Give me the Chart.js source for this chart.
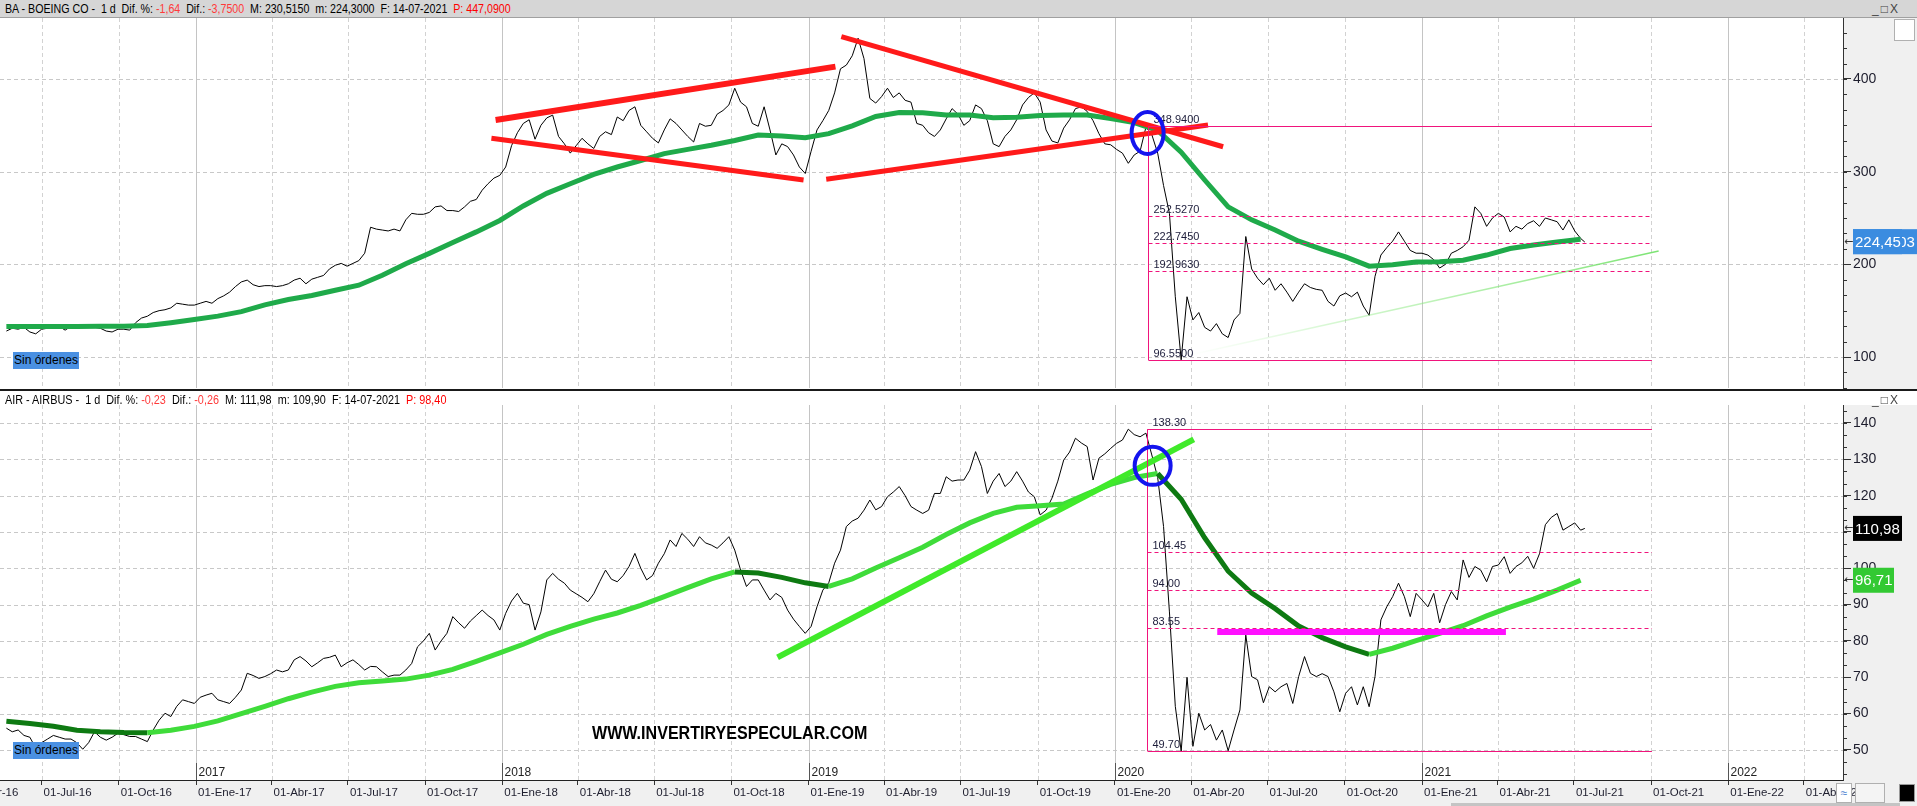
<!DOCTYPE html>
<html>
<head>
<meta charset="utf-8">
<title>BA / AIR diario</title>
<script src="https://cdn.jsdelivr.net/npm/chart.js@4.4.1/dist/chart.umd.min.js"></script>
<style>
  body { margin: 0; width: 1917px; height: 806px; overflow: hidden; position: relative; background: #fff; font-family: "Liberation Sans", Arial, sans-serif; }
  canvas { position: absolute; left: 0; }
  #cTop { top: 0; }
  #cBot { top: 390px; }
  .bar { position: absolute; left: 0; width: 1917px; }
  #topBar { top: 0; height: 17px; background: #d6d6d6; border-bottom: 1px solid #a0a0a0; }
  #botBar { top: 389px; height: 14px; background: #fff; border-top: 2px solid #1a1a1a; }
  .hdr { position: absolute; left: 5px; font-size: 12px; white-space: pre; color: #000; line-height: 14px; transform-origin: 0 0; }
  .neg { color: #ff3a3a; }
  .pr { color: #f00; }
  .sin { position: absolute; left: 13px; width: 66px; height: 17px; background: #4a90e2; font-size: 12px; line-height: 17px; text-align: center; color: #000; }
  .win { position: absolute; left: 1872px; font-size: 12px; color: #444; letter-spacing: 2px; }
  #wm { position: absolute; left: 592px; top: 723px; font-weight: bold; font-size: 18px; color: #000; transform-origin: 0 0; white-space: nowrap; line-height: 20px; }
  .ico { position: absolute; border: 1px solid #b0b0b0; background: #fff; }
</style>
</head>
<body>
<canvas id="cTop" width="1917" height="390"></canvas>
<canvas id="cBot" width="1917" height="416"></canvas>

<div class="bar" id="topBar"></div>
<div class="hdr" id="hdrTop" style="top:2px">BA - BOEING CO -  1 d  Dif. %: <span class="neg">-1,64</span>  Dif.: <span class="neg">-3,7500</span>  M: 230,5150  m: 224,3000  F: 14-07-2021  <span class="pr">P: 447,0900</span></div>
<div class="win" style="top:2px">_□X</div>
<div class="ico" style="left:1894px;top:19px;width:19px;height:20px"></div>

<div class="bar" id="botBar"></div>
<div class="hdr" id="hdrBot" style="top:393px">AIR - AIRBUS -  1 d  Dif. %: <span class="neg">-0,23</span>  Dif.: <span class="neg">-0,26</span>  M: 111,98  m: 109,90  F: 14-07-2021  <span class="pr">P: 98,40</span></div>
<div class="win" style="top:393px">_□X</div>

<div class="sin" style="top:352px">Sin órdenes</div>
<div class="sin" style="top:742px">Sin órdenes</div>
<div id="wm">WWW.INVERTIRYESPECULAR.COM</div>

<div class="ico" style="left:1836px;top:783px;width:14px;height:18px;color:#4a7fd0;font-size:12px;line-height:18px;text-align:center">≈</div>
<div class="ico" style="left:1855px;top:783px;width:28px;height:18px;background:#f4f4f4"></div>
<div style="position:absolute;left:1899px;top:784px;width:14px;height:16px;background:#000;border:1px solid #999"></div>
<div style="position:absolute;left:1451px;top:803px;width:449px;height:3px;background:#c4c4c4"></div>

<script>
// ---------- data ----------
var DAY0 = Date.UTC(2016, 0, 1);
function dayOf(s) {
    var p = s.split('-').map(Number);
    return (Date.UTC(p[0], p[1] - 1, p[2]) - DAY0) / 86400000;
}

var firstWeek = '2016-05-20';   // weekly closes (fridays) from here on
var lastDay = '2021-07-14';     // last session shown
var maStepDays = 28;            // moving average read every 4 weeks

// BA - BOEING CO, weekly close
var baClose = [
    128, 131,                                   // may-16
    130, 132, 127, 125,
    130, 131, 132, 133, 129,
    133, 131, 134, 133,
    132, 131, 128, 127, 130,
    130, 129, 137, 142,
    144, 148, 150, 151,
    153, 158, 157, 156, 156,
    158, 160, 158, 163,                         // 2017
    166, 170, 176, 181,
    183, 178, 176, 177, 177,
    176, 177, 179, 183,
    185, 179, 184, 186,
    188, 195, 199, 201, 198,
    201, 204, 212, 240,
    238, 237, 236, 238,
    236, 248, 255, 254, 254,
    256, 262, 263, 258,
    258, 257, 262, 268,
    270, 280, 287, 293, 296,
    305, 328, 342, 352,                         // 2018
    356, 335, 350, 358,
    361, 338, 330, 320, 328,
    336, 330, 325, 338,
    343, 340, 359, 355,
    366, 370, 350, 343, 336,
    331, 345, 357, 352,
    345, 338, 332, 352, 349,
    350, 362, 366, 372,
    390, 375, 370, 352,
    349, 370, 345, 318, 330,
    327, 318, 305, 298,
    322, 345, 355, 366,                         // 2019
    385, 411, 415, 425,
    444, 422, 379, 374, 381,
    390, 380, 385, 377,
    375, 352, 350, 342, 338,
    345, 357, 368, 362,
    350, 355, 372, 368,
    355, 330, 327, 338, 345,
    356, 372, 380, 385,
    375, 345, 333, 331,
    347, 356, 368, 370, 365,
    355, 341, 330, 329,
    324, 320, 309, 318, 322,                    // 2020
    348, 340, 320, 285,
    255, 165, 97, 165,
    140, 148, 132, 128,
    136, 125, 121, 140, 147,
    230, 195, 185, 178,
    185, 172, 179, 170, 160,
    170, 179, 175, 173,
    172, 160, 155, 166,
    169, 165, 170, 155, 145,
    187, 210, 218, 225,
    235, 225, 215, 212,
    212, 210, 205, 196, 200,                    // 2021
    212, 215, 219, 226,
    262, 255, 241, 250,
    255, 251, 235, 241, 238,
    244, 247, 241, 250,
    248, 246, 237, 248,
    236, 228,
    224
];

// AIR - AIRBUS, weekly close
var airClose = [
    56, 55,                                     // may-16
    55.5, 54, 53.5, 50.5,
    52, 53, 54, 53.5, 53,
    53, 52, 50.2, 52,
    55, 53.5, 52.7, 53.5, 54.6,
    54.2, 53.7, 53.7, 53,
    52.3, 55.5, 58.2, 60.1,
    59.2, 62, 63.8, 63.3, 62.8,
    64.5, 65.1, 65.6, 63.8,                     // 2017
    63.3, 62.8, 64.5, 66.5,
    71.1, 70.5, 69.7, 70.2, 71,
    72, 71.5, 72, 74.8,
    75.7, 74.5, 72.9, 74,
    75.2, 75.5, 76.1, 72.9, 74,
    74.8, 73.5, 72, 73,
    72.9, 71.5, 70.2, 70.6,
    70.6, 72, 73.8, 78.4, 80,
    82.1, 77.5, 80, 82.1,
    86.7, 85, 83.5, 85.5,
    87, 88.5, 87, 85.8, 83,
    87.6, 91, 93.1, 90.4,                       // 2018
    90, 83, 88, 96.8,
    98.6, 97, 95.9, 94, 93,
    92, 90.8, 93, 96.3,
    99.5, 97, 96.3, 98,
    100.5, 104.1, 100, 96.8, 98,
    101.4, 104, 107.8, 106,
    109.6, 108, 106, 108.7, 107,
    106.4, 105.5, 107, 108.7,
    105, 99.5, 95, 96.8,
    96.8, 94, 91.3, 93.1, 92,
    88.5, 86, 84, 82.1,
    84, 89.4, 94, 96,                           // 2019
    101.4, 105, 111.5, 113,
    113.8, 116, 118.8, 116.1, 117,
    119.7, 121, 122.5, 120,
    117, 116, 115.1, 116, 120.6,
    120.6, 125.2, 124, 124.3,
    124.3, 127, 132.1, 128,
    120.6, 124, 126.1, 122.5, 124,
    126.6, 124, 121, 119.7,
    114.7, 116, 119.3, 124,
    129.8, 132, 135.8, 134.5, 133.5,
    124.3, 130.3, 131.5, 133,
    134.4, 135.3, 138.3, 136.8, 136.2,          // 2020
    137.2, 131.2, 125, 111.5,
    88, 62, 49.7, 70,
    51, 60.1, 55.5, 57,
    52.7, 55.5, 49.8, 55.5, 61,
    81.6, 70.2, 69.3, 63,
    67.4, 66, 67.4, 68.3, 62.8,
    70.2, 75.7, 71.1, 70.2,
    71, 70.2, 66, 60.5,
    65.6, 67.4, 62.4, 67.4, 61.9,
    70.2, 85.8, 89.4, 92.2,
    95.9, 92.2, 86.7, 93.1,
    91.3, 89.4, 93.1, 85, 90,                   // 2021
    93.6, 91.3, 102.3, 97.5,
    100.5, 99.5, 96.3, 100.5,
    100.9, 103.2, 98.6, 100.5, 101.5,
    103.3, 100, 104, 112,
    114, 115.1, 110.5, 111.5,
    112.5, 110.5,
    110.98
];

// moving averages (green), one value every 4 weeks from firstWeek
var baMa = [
    132.8, 133.0, 133.0, 133.0, 133.2, 133.3, 134.0, 137.0, 140.5, 144.1,
    149.0, 156.3, 162.0, 166.3, 172.0, 177.5, 188.2, 200.6, 211.8, 223.6,
    235.0, 247.3, 263.0, 276.6, 287.0, 297.0, 305.0, 312.0, 319.5, 324.0,
    328.5, 333.6, 339.6, 338.5, 336.5, 341.0, 349.5, 359.6, 363.7, 363.5,
    361.2, 361.0, 358.2, 358.7, 360.5, 361.2, 361.0, 357.4, 353.0, 344.5,
    321.0, 291.0, 262.0, 248.0, 237.0, 225.0, 216.2, 208.0, 198.0, 199.5,
    202.6, 202.9, 204.4, 210.0, 217.0, 220.8, 224.0, 227.0
];
var airMa = [
    57.9, 57.3, 56.5, 55.4, 55.0, 54.8, 54.75, 55.4, 56.5, 58.0,
    60.0, 62.0, 64.1, 65.9, 67.5, 68.5, 69.0, 69.5, 70.6, 72.2,
    74.4, 76.7, 79.1, 81.8, 84.0, 86.0, 87.7, 89.8, 92.2, 94.7,
    97.1, 99.0, 98.7, 97.5, 96.0, 95.0, 97.1, 100.1, 102.9, 105.8,
    109.3, 112.5, 115.1, 116.8, 117.2, 117.7, 120.5, 123.1, 125.0, 126.1,
    119.0, 108.4, 99.2, 93.2, 88.9, 84.1, 80.9, 78.4, 76.3, 78.0,
    80.1, 82.1, 84.2, 86.9, 89.3, 91.5, 94.0, 96.7
];

// axis labels
var mesesES = ['Ene', 'Abr', 'Jul', 'Oct'];
var yearLabels = ['2017', '2018', '2019', '2020', '2021', '2022'];
var baTicks = [100, 200, 300, 400];
var airTicks = [50, 60, 70, 80, 90, 100, 110, 120, 130, 140];

// retracements
var baFibFrom = '2020-02-09', airFibFrom = '2020-02-08', fibTo = '2021-10-02';
var baFibLevels = [348.94, 252.527, 222.745, 192.963, 96.55];
var baFibText = ['348.9400', '252.5270', '222.7450', '192.9630', '96.5500'];
var airFibLevels = [138.30, 104.45, 94.00, 83.55, 49.70];
var airFibText = ['138.30', '104.45', '94.00', '83.55', '49.70'];

// hand drawn lines: [date, value, date, value]
var baRedLines = [
    ['2017-12-24', 355.8, '2019-02-02', 413.3],
    ['2017-12-19', 336.0, '2018-12-26', 291.0],
    ['2019-02-09', 445.7, '2020-05-09', 326.9],
    ['2019-01-22', 291.8, '2020-04-21', 350.3]
];
var baFaintLine = ['2020-03-30', 102.2, '2021-10-10', 214.4];
var airSupport = ['2018-11-25', 75.5, '2020-04-04', 135.5];
var airFloor = ['2020-05-02', 82.47, '2021-04-11', 82.47];
var baCircle = ['2020-02-09', 341.7];
var airCircle = ['2020-02-15', 128.2];

// last price tags on the right axis
var baTags = [{ value: 224.45, text: '224,45', ghost: '225,03', bg: '#3b8ce0', w: 49 }];
var airTags = [
    { value: 110.98, text: '110,98', bg: '#000', w: 49 },
    { value: 96.71, text: '96,71', bg: '#33c933', w: 41 }
];

// ---------- helpers ----------
var X_MIN = 132.4, X_MAX = 2328.7;

var quarterTicks = [];
for (var yy = 2016; yy <= 2022; yy++) {
    for (var mm = 0; mm < 12; mm += 3) {
        var v = (Date.UTC(yy, mm, 1) - DAY0) / 86400000;
        if (v >= 91 && v <= X_MAX) {
            quarterTicks.push({ value: v, year: yy, q: mm / 3 });
        }
    }
}

function series(values) {
    var w0 = dayOf(firstWeek), n = values.length;
    return values.map(function (val, i) {
        return { x: i === n - 1 ? dayOf(lastDay) : w0 + 7 * i, y: val };
    });
}
function maSeries(values) {
    var w0 = dayOf(firstWeek);
    return values.map(function (val, i) { return { x: w0 + maStepDays * i, y: val }; });
}
function seg(l) {
    return [{ x: dayOf(l[0]), y: l[1] }, { x: dayOf(l[2]), y: l[3] }];
}
function lineSet(data, color, width) {
    return { data: data, borderColor: color, borderWidth: width, pointRadius: 0, tension: 0, fill: false };
}
function strokeLine(ctx, x1, y1, x2, y2) {
    ctx.beginPath(); ctx.moveTo(x1, y1); ctx.lineTo(x2, y2); ctx.stroke();
}

function panelPlugin(o) {
    return {
        id: 'panel',
        beforeDraw: function (chart) {
            var ctx = chart.ctx, a = chart.chartArea, x = chart.scales.x, y = chart.scales.y;
            ctx.save();
            ctx.fillStyle = '#fff';
            ctx.fillRect(0, 0, chart.width, chart.height);
            ctx.fillStyle = '#f0f0f0';
            ctx.fillRect(a.right, 0, chart.width - a.right, chart.height);
            if (o.axisBar) ctx.fillRect(0, a.bottom, chart.width, chart.height - a.bottom);
            ctx.lineWidth = 1;
            ctx.setLineDash([4, 3]);
            ctx.strokeStyle = '#c8c8c8';
            o.majors.forEach(function (val) {
                var py = Math.round(y.getPixelForValue(val)) + 0.5;
                strokeLine(ctx, a.left, py, a.right, py);
            });
            quarterTicks.forEach(function (t) {
                if (t.value < X_MIN) return;
                var px = Math.round(x.getPixelForValue(t.value)) + 0.5;
                ctx.setLineDash(t.q === 0 ? [] : [4, 3]);
                ctx.strokeStyle = t.q === 0 ? '#c4c4c4' : '#d2d2d2';
                strokeLine(ctx, px, a.top, px, a.bottom);
            });
            ctx.restore();
        },
        afterDatasetsDraw: function (chart) {
            var ctx = chart.ctx, a = chart.chartArea, x = chart.scales.x, y = chart.scales.y;
            ctx.save();
            // retracement box
            var f = o.fib, last = f.levels.length - 1;
            var x0 = Math.round(x.getPixelForValue(dayOf(f.from))) + 0.5;
            var x1 = x.getPixelForValue(dayOf(f.to));
            ctx.strokeStyle = '#f0147c';
            ctx.lineWidth = 1;
            strokeLine(ctx, x0, y.getPixelForValue(f.levels[0]), x0, y.getPixelForValue(f.levels[last]));
            ctx.font = '11px "Liberation Sans", Arial';
            ctx.textBaseline = 'bottom';
            f.levels.forEach(function (val, i) {
                var py = Math.round(y.getPixelForValue(val)) + 0.5;
                ctx.setLineDash(i === 0 || i === last ? [] : [4, 3]);
                strokeLine(ctx, x0, py, x1, py);
                ctx.fillStyle = '#1c1c3a';
                ctx.fillText(f.text[i], x0 + 5, py - 1);
            });
            ctx.setLineDash([]);
            // blue circle
            ctx.strokeStyle = '#1414ee';
            ctx.lineWidth = 4;
            ctx.beginPath();
            ctx.ellipse(x.getPixelForValue(dayOf(o.circle[0])), y.getPixelForValue(o.circle[1]), o.rx, o.ry, 0, 0, Math.PI * 2);
            ctx.stroke();
            // year row above the axis
            if (o.axisBar) {
                ctx.font = '12px "Liberation Sans", Arial';
                ctx.fillStyle = '#222';
                ctx.textBaseline = 'alphabetic';
                ctx.strokeStyle = '#555';
                ctx.lineWidth = 1;
                quarterTicks.forEach(function (t) {
                    if (t.q !== 0 || yearLabels.indexOf(String(t.year)) < 0) return;
                    var px = Math.round(x.getPixelForValue(t.value)) + 0.5;
                    strokeLine(ctx, px, a.bottom - 17, px, a.bottom);
                    ctx.fillText(String(t.year), px + 2, a.bottom - 4);
                });
            }
            ctx.restore();
        },
        afterDraw: function (chart) {
            var ctx = chart.ctx, a = chart.chartArea, y = chart.scales.y;
            ctx.save();
            // minor ticks
            ctx.strokeStyle = '#333';
            ctx.lineWidth = 1;
            var step = o.minorStep;
            for (var k = Math.ceil(y.min / step); k * step <= y.max; k++) {
                var py = Math.round(y.getPixelForValue(k * step)) + 0.5;
                strokeLine(ctx, a.right, py, a.right + 4, py);
            }
            // price tags
            ctx.font = '15px "Liberation Sans", Arial';
            ctx.textBaseline = 'middle';
            o.tags.forEach(function (t) {
                var py = y.getPixelForValue(t.value);
                var left = a.right + 10;
                if (t.ghost) {
                    ctx.fillStyle = t.bg;
                    ctx.fillRect(left, py - 12.5, chart.width - left, 25);
                    ctx.fillStyle = '#fff';
                    ctx.fillText(t.ghost, left + 16, py + 1);
                }
                ctx.fillStyle = t.bg;
                ctx.fillRect(left, py - 12.5, t.w, 25);
                ctx.fillStyle = '#fff';
                ctx.fillText(t.text, left + 2, py + 1);
                ctx.fillStyle = '#333';
                ctx.font = '11px "DejaVu Sans"';
                ctx.fillText('←', a.right + 1, py);
                ctx.font = '15px "Liberation Sans", Arial';
            });
            ctx.restore();
        }
    };
}

function yScale(min, max, majors) {
    return {
        position: 'right',
        min: min,
        max: max,
        afterFit: function (s) { s.width = 74; s.paddingTop = 0; s.paddingBottom = 0; },
        afterBuildTicks: function (s) { s.ticks = majors.map(function (val) { return { value: val }; }); },
        ticks: {
            color: '#1e1e2e',
            font: { family: 'Liberation Sans', size: 14 },
            padding: 2,
            callback: function (val) { return String(val); }
        },
        grid: { drawOnChartArea: false, drawTicks: true, tickLength: 8, tickColor: '#333' },
        border: { display: true, color: '#333' }
    };
}

function quarterLabel(t) {
    return '01-' + mesesES[t.q] + '-' + String(t.year).slice(2);
}

// faint trend line that fades in from the left
var faint = lineSet(seg(baFaintLine), 'rgba(120,225,110,0.8)', 1.5);
faint.borderColor = function (c) {
    var ch = c.chart;
    if (!ch.chartArea) return 'rgba(120,225,110,0.8)';
    var sx = ch.scales.x;
    var g = ch.ctx.createLinearGradient(sx.getPixelForValue(dayOf(baFaintLine[0])), 0, sx.getPixelForValue(dayOf(baFaintLine[2])), 0);
    g.addColorStop(0, 'rgba(160,240,150,0)');
    g.addColorStop(0.35, 'rgba(150,235,140,0.45)');
    g.addColorStop(1, 'rgba(110,225,100,0.9)');
    return g;
};

// ---------- top: BOEING ----------
new Chart(document.getElementById('cTop'), {
    type: 'line',
    data: {
        datasets: [
            lineSet(seg(baRedLines[0]), '#ff1a1a', 6),
            lineSet(seg(baRedLines[1]), '#ff1a1a', 5),
            lineSet(seg(baRedLines[2]), '#ff1a1a', 5),
            lineSet(seg(baRedLines[3]), '#ff1a1a', 5),
            faint,
            lineSet(maSeries(baMa), '#1faa4a', 5),
            lineSet(series(baClose), '#000', 1)
        ]
    },
    options: {
        responsive: false,
        animation: false,
        events: [],
        layout: { padding: { top: 18, bottom: 2, left: 0, right: 0 } },
        plugins: { legend: { display: false }, tooltip: { enabled: false } },
        scales: {
            x: { type: 'linear', display: false, min: X_MIN, max: X_MAX },
            y: yScale(66.55, 465.8, baTicks)
        }
    },
    plugins: [panelPlugin({
        majors: baTicks, minorStep: 100 / 6, tags: baTags,
        fib: { from: baFibFrom, to: fibTo, levels: baFibLevels, text: baFibText },
        circle: baCircle, rx: 16, ry: 21
    })]
});

// ---------- bottom: AIRBUS ----------
var dark = '#0e7a12', light = '#3fdc3a';
var airMaSet = lineSet(maSeries(airMa), light, 5);
airMaSet.segment = {
    borderColor: function (c) { return c.p1.parsed.y < c.p0.parsed.y ? dark : light; }
};

new Chart(document.getElementById('cBot'), {
    type: 'line',
    data: {
        datasets: [
            lineSet(seg(airFloor), '#ff10ff', 6),
            lineSet(seg(airSupport), '#40ea2a', 6),
            airMaSet,
            lineSet(series(airClose), '#000', 1)
        ]
    },
    options: {
        responsive: false,
        animation: false,
        events: [],
        layout: { padding: { top: 15, bottom: 0, left: 0, right: 0 } },
        plugins: { legend: { display: false }, tooltip: { enabled: false } },
        scales: {
            x: {
                type: 'linear',
                position: 'bottom',
                min: X_MIN,
                max: X_MAX,
                afterFit: function (s) { s.height = 26; s.paddingLeft = 0; s.paddingRight = 0; },
                afterBuildTicks: function (s) { s.ticks = quarterTicks.map(function (t) { return { value: t.value }; }); },
                ticks: {
                    autoSkip: false,
                    maxRotation: 0,
                    align: 'start',
                    labelOffset: 2,
                    padding: 1,
                    color: '#1e1e2e',
                    font: { family: 'Liberation Sans', size: 11.5 },
                    callback: function (val, i) { return quarterLabel(quarterTicks[i]); }
                },
                grid: { drawOnChartArea: false, drawTicks: true, tickLength: 5, tickColor: '#333' },
                border: { display: true, color: '#222' }
            },
            y: yScale(41.73, 144.95, airTicks)
        }
    },
    plugins: [panelPlugin({
        majors: airTicks, minorStep: 10 / 3, tags: airTags, axisBar: true,
        fib: { from: airFibFrom, to: fibTo, levels: airFibLevels, text: airFibText },
        circle: airCircle, rx: 18, ry: 19
    })]
});

// squeeze texts to the width they have in the picture
function fitWidth(id, w) {
    var el = document.getElementById(id);
    el.style.transform = 'scaleX(' + (w / el.offsetWidth) + ')';
}
fitWidth('wm', 275);
fitWidth('hdrTop', 506);
fitWidth('hdrBot', 441);
</script>
</body>
</html>
